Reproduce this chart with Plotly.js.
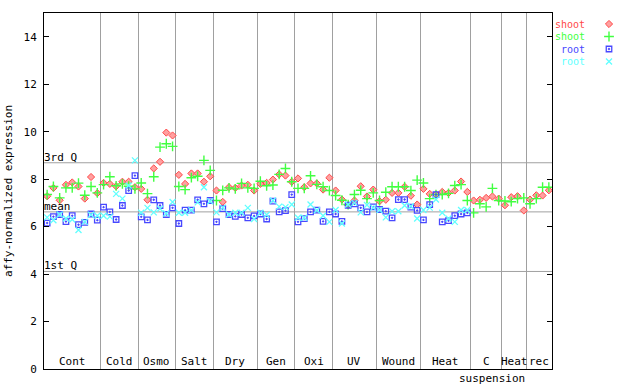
<!DOCTYPE html>
<html><head><meta charset="utf-8">
<script src="https://cdn.plot.ly/plotly-3.0.1.min.js"></script>
<style>html,body{margin:0;padding:0;background:#fff}#chart{width:640px;height:384px}</style>
</head><body><div id="chart"></div>
<script>
// Condition groups along the x axis and the number of samples in each
const groupLabels = ['Cont','Cold','Osmo','Salt','Dry','Gen','Oxi','UV','Wound','Heat','C','Heat','rec'];
const groupSizes  = [9,6,6,6,7,6,6,7,7,8,5,4,4];

// Series values (affy-normalized expression), one per sample
const shootRep1 = [7.28,7.63,7.11,7.76,7.86,7.69,7.18,8.09,7.41,
  7.84,7.80,7.70,7.89,7.89,7.66,
  7.59,7.13,8.45,8.73,9.96,9.84,
  8.18,7.80,8.24,8.24,7.89,8.12,
  7.52,7.04,7.66,7.63,7.73,7.76,7.52,
  7.80,7.84,7.98,8.20,8.15,7.89,
  8.03,7.66,7.82,7.82,7.56,8.06,
  7.52,7.14,6.90,7.10,7.70,7.27,7.56,
  7.07,7.13,7.42,7.42,7.68,7.30,6.93,
  7.59,7.38,7.35,7.46,7.42,7.52,7.90,7.46,
  7.10,7.13,7.21,7.27,7.18,
  6.90,7.24,7.28,6.68,
  7.14,7.32,7.31,7.53];
const shootRep2 = [7.35,7.69,7.21,7.63,7.63,7.83,7.32,7.69,7.42,
  7.77,8.10,7.72,7.80,7.70,7.59,
  7.84,7.39,8.10,9.35,9.49,9.38,
  7.69,7.56,8.06,8.12,8.79,8.37,
  7.10,7.53,7.63,7.59,7.82,7.63,7.61,
  7.91,7.72,7.75,8.20,8.45,7.89,
  7.61,7.61,8.14,7.78,7.68,7.52,
  7.31,7.11,6.93,7.35,7.53,7.18,7.42,
  7.10,7.45,7.68,7.68,7.68,7.52,7.96,
  7.84,7.18,7.35,7.35,7.40,7.73,7.77,7.10,
  6.58,6.96,6.83,7.61,7.10,
  7.08,7.05,7.18,7.21,
  6.96,7.18,7.66,7.66];
const rootRep1 = [6.15,6.42,6.51,6.21,6.46,6.08,6.18,6.53,6.27,
  6.82,6.62,6.30,6.89,7.52,8.15,
  6.41,6.28,7.13,6.89,6.51,6.79,
  6.13,6.69,6.69,7.13,6.96,7.10,
  6.20,6.76,6.51,6.43,6.51,6.37,6.45,
  6.53,6.32,7.07,6.62,6.67,7.35,
  6.20,6.34,6.62,6.69,6.22,6.62,
  6.53,6.22,6.90,6.96,6.79,6.62,6.83,
  6.72,6.65,6.37,7.14,7.14,6.82,6.68,
  6.28,6.93,7.35,6.20,6.25,6.46,6.53,6.58,
  null,null,null,null,null,
  null,null,null,null,
  null,null,null,null];
const rootRep2 = [6.39,6.27,6.51,6.34,6.30,5.86,6.20,6.50,6.46,
  6.46,6.42,7.38,7.18,7.73,8.79,
  6.58,6.79,6.60,6.75,6.55,7.04,
  6.58,6.58,6.69,7.02,7.66,7.07,
  6.60,6.80,6.51,6.58,6.58,6.79,6.32,
  6.58,6.50,7.10,6.84,6.82,6.93,
  6.37,6.37,6.93,6.69,6.46,6.20,
  6.70,6.13,6.93,7.00,6.60,6.91,6.80,
  6.70,6.39,6.65,6.65,6.89,6.86,6.34,
  6.70,6.80,7.14,6.58,6.34,6.20,6.70,6.70,
  null,null,null,null,null,
  null,null,null,null,
  null,null,null,null];

// Summary statistics drawn as reference lines
const statNames  = ['3rd Q','mean','1st Q'];
const statValues = [8.69, 6.62, 4.11];

const yTicks = [0,2,4,6,8,10,12,14];

// ---- derived ----
const n = shootRep1.length;
const xs = shootRep1.map((_, i) => i + 0.5);
const bounds = []; let acc = 0;
groupSizes.forEach(s => { acc += s; bounds.push(acc); });
const centers = groupSizes.map((s, i) => bounds[i] - s / 2);

const mono = 'DejaVu Sans Mono, Liberation Mono, monospace';
const cols = ['#ff4848', '#40ff40', '#4848ff', '#60ffff'];

const traces = [
  {x: xs, y: shootRep1, name: 'shoot', mode: 'markers', type: 'scatter',
   marker: {symbol: 'diamond', size: 5.5, color: '#ffa0a0', line: {color: cols[0], width: 1}}},
  {x: xs, y: shootRep2, name: 'shoot', mode: 'markers', type: 'scatter',
   marker: {symbol: 'cross-thin-open', size: 7, color: cols[1], line: {color: cols[1], width: 1.4}}},
  {x: xs, y: rootRep1, name: 'root', mode: 'markers', type: 'scatter',
   marker: {symbol: 'square-open-dot', size: 5.5, color: cols[2], line: {color: cols[2], width: 1.3}}},
  {x: xs, y: rootRep2, name: 'root', mode: 'markers', type: 'scatter',
   marker: {symbol: 'x-thin-open', size: 6, color: cols[3], line: {color: cols[3], width: 1.3}}}
];

const shapes = statValues.map(v => ({
  type: 'line', xref: 'paper', x0: 0, x1: 1, yref: 'y', y0: v, y1: v,
  line: {color: '#a0a0a0', width: 1}, layer: 'below'
}));

const annotations = [];
statNames.forEach((t, i) => annotations.push({
  text: t, xref: 'paper', x: 0, xanchor: 'left', yref: 'y', y: statValues[i],
  yanchor: 'bottom', showarrow: false, font: {family: mono, size: 11, color: '#000'},
  xshift: -2, yshift: -3
}));
groupLabels.forEach((t, i) => annotations.push({
  text: t, xref: 'x', x: centers[i], xanchor: 'center', yref: 'paper', y: 0,
  yanchor: 'bottom', showarrow: false, font: {family: mono, size: 11, color: '#000'}, yshift: -1
}));
annotations.push({
  text: 'suspension', xref: 'x', x: centers[10] + 1, xanchor: 'center', yref: 'paper', y: 0,
  yanchor: 'top', showarrow: false, font: {family: mono, size: 11, color: '#000'}, yshift: -1
});

const layout = {
  width: 640, height: 384,
  margin: {l: 44, r: 88, t: 13, b: 15, pad: 0},
  paper_bgcolor: '#fff', plot_bgcolor: '#fff',
  showlegend: true,
  legend: {x: 1.0, xanchor: 'left', y: 1.0, yanchor: 'top', bgcolor: 'rgba(0,0,0,0)',
           font: {family: mono, size: 10}, tracegroupgap: 0, itemwidth: 30},
  xaxis: {range: [0, n], tickvals: bounds, showticklabels: false, ticks: '',
          showgrid: true, gridcolor: '#a0a0a0', gridwidth: 1,
          showline: true, linecolor: '#000', linewidth: 1, mirror: true, zeroline: false, fixedrange: true},
  yaxis: {range: [0, 15], tickvals: yTicks, ticks: 'inside', ticklen: 5, tickcolor: '#000',
          showgrid: false, zeroline: false, showline: true, linecolor: '#000', linewidth: 1, mirror: 'ticks',
          tickfont: {family: mono, size: 11, color: '#000'}, ticklabelstandoff: 4,
          title: {text: 'affy-normalized expression', font: {family: mono, size: 11, color: '#000'}, standoff: 8}},
  shapes: shapes,
  annotations: annotations
};

Plotly.newPlot('chart', traces, layout, {displayModeBar: false, staticPlot: true}).then(() => {
  // Legend styled like the original: coloured text, right-aligned, symbol after it, tight rows
  const rowTop = 24, rowStep = 12.5, textRight = 585, symbolX = 609;
  document.querySelectorAll('.legend .traces').forEach((g, i) => {
    const t = g.querySelector('text.legendtext');
    const pts = g.querySelector('.legendpoints');
    if (!t || !pts) return;
    t.style.fill = cols[i];
    const m = /translate\(([-\d.]+)[ ,]+([-\d.]+)\)/.exec(g.getAttribute('transform') || '');
    const tx = m ? parseFloat(m[1]) : 0, ty = m ? parseFloat(m[2]) : 0;
    const pr = pts.getBoundingClientRect();
    const cy = pr.top + pr.height / 2;
    g.setAttribute('transform', 'translate(' + tx + ',' + (ty + rowTop + rowStep * i - cy) + ')');
    const trc = t.getBoundingClientRect();
    const ox = parseFloat(t.getAttribute('x') || '0');
    t.setAttribute('x', ox + (textRight - trc.right));
    const pr2 = pts.getBoundingClientRect();
    pts.setAttribute('transform', 'translate(' + (symbolX - (pr2.left + pr2.width / 2)) + ',0)');
  });
});
</script></body></html>
